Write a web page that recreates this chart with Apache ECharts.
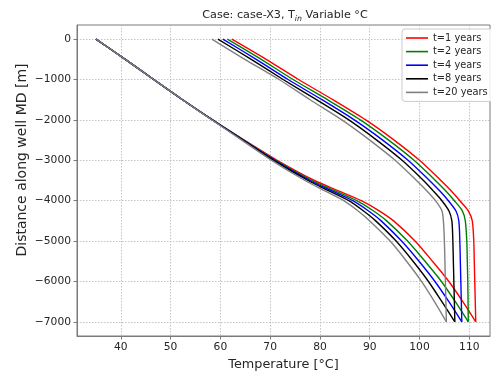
<!DOCTYPE html>
<html>
<head>
<meta charset="utf-8">
<script src="https://cdn.jsdelivr.net/npm/echarts@6/dist/echarts.min.js"></script>
<style>
  html, body { margin: 0; padding: 0; background: #ffffff; }
  #chart { width: 491px; height: 371px; }
</style>
</head>
<body>
<div id="chart"></div>
<script>
// Depth along the well (m, measured depth, negative downward)
const depths = [0, -500, -1000, -1500, -2000, -2500, -3000, -3500, -3750, -4000, -4250, -4500, -5000, -5500, -6000, -6500, -7000];

const seriesNames = ['t=1 years', 't=2 years', 't=4 years', 't=8 years', 't=20 years'];

// Fluid temperature going down the injection leg (°C), one value per depth
const downT1  = [35, 40.9, 46.6, 52.4, 58.4, 64.8, 71.4, 78.9, 83.6, 88.3, 91.9, 94.8, 99.1, 102.6, 105.9, 108.7, 111.3];
const downT2  = [35, 40.9, 46.6, 52.4, 58.4, 64.7, 71.1, 78.4, 82.9, 87.4, 90.7, 93.4, 97.6, 101.1, 104.4, 107.2, 109.8];
const downT4  = [35, 40.9, 46.6, 52.4, 58.4, 64.6, 70.9, 78.0, 82.3, 86.6, 89.7, 92.3, 96.4, 99.9, 103.1, 105.9, 108.5];
const downT8  = [35, 40.9, 46.6, 52.4, 58.4, 64.5, 70.7, 77.6, 81.7, 85.8, 88.7, 91.2, 95.3, 98.7, 101.8, 104.5, 107.1];
const downT20 = [35, 40.9, 46.6, 52.4, 58.3, 64.3, 70.3, 77.0, 80.9, 84.8, 87.6, 90.0, 94.1, 97.4, 100.4, 103.0, 105.4];

// Fluid temperature in the return leg (°C), same depths
const upT1  = [62.3, 69.2, 75.7, 82.6, 89.2, 94.9, 100.0, 104.3, 106.3, 108.1, 109.8, 110.6, 110.9, 111.0, 111.1, 111.2, 111.3];
const upT2  = [61.4, 68.2, 74.6, 81.5, 88.1, 93.8, 98.9, 103.2, 105.2, 107.0, 108.6, 109.2, 109.5, 109.6, 109.7, 109.75, 109.8];
const upT4  = [60.5, 67.2, 73.6, 80.4, 86.9, 92.6, 97.7, 102.0, 104.0, 105.8, 107.3, 107.9, 108.1, 108.2, 108.3, 108.4, 108.5];
const upT8  = [59.5, 66.2, 72.6, 79.3, 85.8, 91.4, 96.5, 100.8, 102.7, 104.5, 105.9, 106.5, 106.7, 106.8, 106.9, 107.0, 107.1];
const upT20 = [58.3, 64.9, 71.8, 78.0, 84.4, 90.0, 95.1, 99.4, 101.4, 103.2, 104.5, 104.8, 105.0, 105.1, 105.2, 105.3, 105.4];

const xTicks = [40, 50, 60, 70, 80, 90, 100, 110];
const yTicks = [0, -1000, -2000, -3000, -4000, -5000, -6000, -7000];

const downSets = [downT1, downT2, downT4, downT8, downT20];
const upSets = [upT1, upT2, upT4, upT8, upT20];
const lineColors = ['#ff0000', '#008000', '#0000ff', '#000000', '#808080'];

const FONT = '"DejaVu Sans", sans-serif';
const TEXT = '#262626';
const FRAME = '#7a7a7a';

function pairs(temps) {
  return depths.map((d, i) => [temps[i], d]);
}

const series = [];
seriesNames.forEach((name, k) => {
  [downSets[k], upSets[k]].forEach(temps => {
    series.push({
      name: name,
      type: 'line',
      data: pairs(temps),
      symbol: 'none',
      smooth: 0.25,
      color: lineColors[k],
      lineStyle: { color: lineColors[k], width: 1.4 },
      emphasis: { disabled: true },
      animation: false
    });
  });
});

const minus = v => (v < 0 ? '\u2212' + Math.abs(v) : String(v));

const chart = echarts.init(document.getElementById('chart'), null, { renderer: 'canvas' });
chart.setOption({
  animation: false,
  backgroundColor: '#ffffff',
  textStyle: { fontFamily: FONT },
  grid: {
    left: 77, right: 1, top: 25, bottom: 35,
    show: true, borderColor: FRAME, borderWidth: 1,
    containLabel: false, outerBoundsMode: 'none'
  },
  graphic: [{
    type: 'text',
    x: 285, y: 15.5,
    style: {
      text: '{a|Case: case-X3, T}{b|in}{a| Variable °C}',
      align: 'center', verticalAlign: 'middle',
      rich: {
        a: { fontFamily: FONT, fontSize: 11.2, fill: TEXT, lineHeight: 14 },
        b: { fontFamily: FONT, fontSize: 7.8, fontStyle: 'italic', fill: TEXT, lineHeight: 9, verticalAlign: 'bottom' }
      }
    }
  }, {
    type: 'text',
    x: 22, y: 160,
    rotation: Math.PI / 2,
    style: {
      text: 'Distance along well MD [m]',
      align: 'center', verticalAlign: 'middle',
      fontFamily: FONT, fontSize: 14, fill: TEXT
    }
  }],
  legend: {
    orient: 'vertical',
    left: 402, top: 29,
    padding: [4, 10, 4, 4],
    itemGap: 3.6,
    itemWidth: 22, itemHeight: 1.6,
    icon: 'rect',
    data: seriesNames,
    backgroundColor: 'rgba(255,255,255,0.85)',
    borderColor: '#cccccc', borderWidth: 1, borderRadius: 3,
    textStyle: { fontFamily: FONT, fontSize: 9.8, color: TEXT, lineHeight: 10, padding: [0, 0, 0, 0] },
    itemStyle: { borderWidth: 0 },
    selectedMode: false
  },
  xAxis: {
    type: 'value',
    min: 31.2, max: 114.16,
    name: 'Temperature [°C]',
    nameLocation: 'middle', nameGap: 19,
    nameTextStyle: { fontFamily: FONT, fontSize: 12.8, color: TEXT },
    axisLine: { show: true, onZero: false, lineStyle: { color: FRAME, width: 1 } },
    axisTick: { show: true, length: 3.5, customValues: xTicks, lineStyle: { color: FRAME } },
    axisLabel: { customValues: xTicks, fontFamily: FONT, fontSize: 10.7, color: TEXT, margin: 6 },
    splitLine: { show: true, lineStyle: { color: '#b5b5b5', width: 0.8, type: [1.5, 1.5] } }
  },
  yAxis: {
    type: 'value',
    min: -7350, max: 350,
    axisLine: { show: true, onZero: false, lineStyle: { color: FRAME, width: 1 } },
    axisTick: { show: true, length: 3.5, customValues: yTicks, lineStyle: { color: FRAME } },
    axisLabel: { customValues: yTicks, formatter: minus, fontFamily: FONT, fontSize: 10.7, color: TEXT, margin: 6 },
    splitLine: { show: true, lineStyle: { color: '#b5b5b5', width: 0.8, type: [1.5, 1.5] } }
  },
  series: series
});
</script>
</body>
</html>
